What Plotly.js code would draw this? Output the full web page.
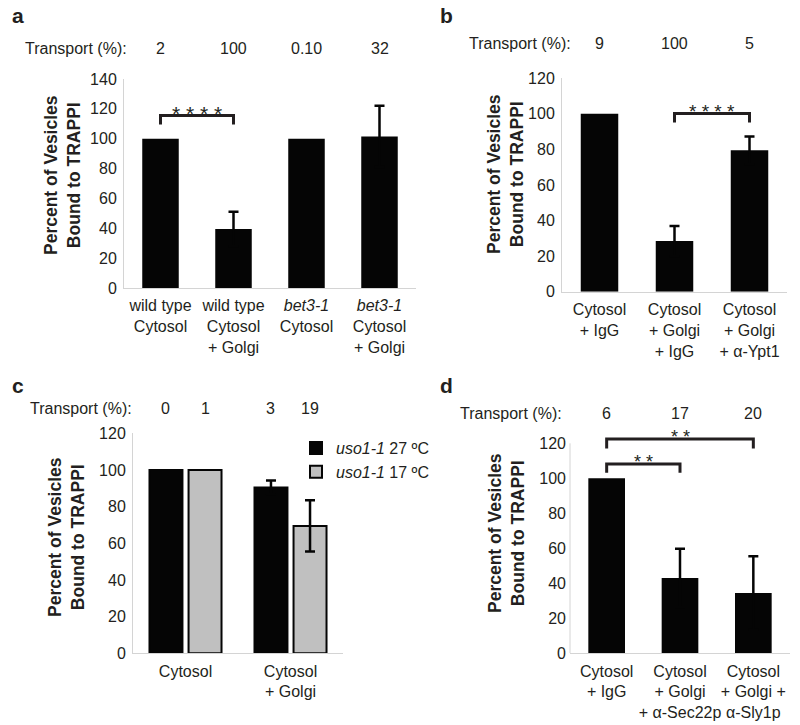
<!DOCTYPE html>
<html><head><meta charset="utf-8">
<script src="https://cdn.plot.ly/plotly-3.0.1.min.js"></script>
<style>html,body{margin:0;padding:0;background:#fff}#chart{width:800px;height:725px}</style>
</head><body><div id="chart"></div>
<script>
// ---------- Panel a ----------
const aCategories = ['wild type<br>Cytosol', 'wild type<br>Cytosol<br>+ Golgi', '<i>bet3-1</i><br>Cytosol', '<i>bet3-1</i><br>Cytosol<br>+ Golgi'];
const aValues = [100, 39.5, 100, 101.5];
const aErrors = [NaN, 11.5, NaN, 20.5];
const aTransport = ['2', '100', '0.10', '32'];
const aYTicks = [0, 20, 40, 60, 80, 100, 120, 140];
// bracket: [fromIndex, toIndex, top, legBottom, stars]
const aBrackets = [[0, 1, 115.5, 109.5, '* * * *']];

// ---------- Panel b ----------
const bCategories = ['Cytosol<br>+ IgG', 'Cytosol<br>+ Golgi<br>+ IgG', 'Cytosol<br>+ Golgi<br>+ α-Ypt1'];
const bValues = [100, 28.5, 79.5];
const bErrors = [NaN, 8.5, 7.8];
const bTransport = ['9', '100', '5'];
const bYTicks = [0, 20, 40, 60, 80, 100, 120];
const bBrackets = [[1, 2, 100.2, 95.2, '* * * *']];

// ---------- Panel c ----------
const cCategories = ['Cytosol', 'Cytosol<br>+ Golgi'];
const cSeriesNames = ['<i>uso1-1</i> 27 ºC', '<i>uso1-1</i> 17 ºC'];
const cSeries27 = [100, 90.5];
const cErrors27 = [NaN, 3.7];
const cSeries17 = [100, 69.5];
const cErrors17 = [NaN, 14];
const cTransport = ['0', '1', '3', '19'];
const cYTicks = [0, 20, 40, 60, 80, 100, 120];

// ---------- Panel d ----------
const dCategories = ['Cytosol<br>+ IgG', 'Cytosol<br>+ Golgi<br>+ α-Sec22p', 'Cytosol<br>+ Golgi +<br>α-Sly1p'];
const dValues = [100, 43, 34.5];
const dErrors = [NaN, 16.7, 21];
const dTransport = ['6', '17', '20'];
const dYTicks = [0, 20, 40, 60, 80, 100, 120];
const dBrackets = [[0, 2, 122.5, 117, '* *'], [0, 1, 108.2, 103.2, '* *']];

// ---------- styling ----------
const FONT = 'Liberation Sans, Arial, Helvetica, sans-serif';
const TXT = '#231f20';
const AXISLINE = '#d4d4d4';
const BLACK = '#050505';
const GRAY = '#c0c0c0';

function errBar(arr) {
  return {type: 'data', array: arr, visible: true, symmetric: true, color: BLACK, thickness: 2.5, width: 5};
}
function bars(cats, vals, errs, xa, ya) {
  return {type: 'bar', x: cats, y: vals, xaxis: xa, yaxis: ya, width: 0.5,
    marker: {color: BLACK, line: {width: 0}}, error_y: errBar(errs),
    showlegend: false, hoverinfo: 'skip'};
}
function bracketTraces(cats, brackets, xa, ya) {
  return brackets.map(b => ({
    type: 'scatter', mode: 'lines', xaxis: xa, yaxis: ya,
    x: [cats[b[0]], cats[b[0]], cats[b[1]], cats[b[1]]],
    y: [b[3], b[2], b[2], b[3]],
    line: {color: TXT, width: 3}, showlegend: false, hoverinfo: 'skip', cliponaxis: false
  }));
}

const C_WIDTH = 0.314;
const C_OFF = [-0.343, 0.029];

const traces = [
  bars(aCategories, aValues, aErrors, 'x', 'y'),
  ...bracketTraces(aCategories, aBrackets, 'x', 'y'),
  bars(bCategories, bValues, bErrors, 'x2', 'y2'),
  ...bracketTraces(bCategories, bBrackets, 'x2', 'y2'),
  {type: 'bar', name: cSeriesNames[0], x: cCategories, y: cSeries27, xaxis: 'x3', yaxis: 'y3',
    width: C_WIDTH, offset: C_OFF[0], marker: {color: BLACK, line: {color: BLACK, width: 2}},
    error_y: errBar(cErrors27), hoverinfo: 'skip'},
  {type: 'bar', name: cSeriesNames[1], x: cCategories, y: cSeries17, xaxis: 'x3', yaxis: 'y3',
    width: C_WIDTH, offset: C_OFF[1], marker: {color: GRAY, line: {color: BLACK, width: 2}},
    error_y: errBar(cErrors17), hoverinfo: 'skip'},
  bars(dCategories, dValues, dErrors, 'x4', 'y4'),
  ...bracketTraces(dCategories, dBrackets, 'x4', 'y4')
];

const tickFont = {family: FONT, size: 16, color: TXT};
function xAxis(domain, anchor) {
  return {domain: domain, anchor: anchor, type: 'category', showline: true, linecolor: AXISLINE, linewidth: 1,
    ticks: '', showgrid: false, zeroline: false, tickfont: tickFont, fixedrange: true, ticklabelstandoff: 3,
    tickangle: 0};
}
function yAxis(domain, anchor, range, ticks, showline) {
  return {domain: domain, anchor: anchor, range: range, tickvals: ticks, ticktext: ticks.map(String),
    showline: showline, linecolor: AXISLINE, linewidth: 1, ticks: '', showgrid: false, zeroline: false,
    tickfont: tickFont, fixedrange: true, ticklabelstandoff: 3};
}

const annotations = [];
const shapes = [];
function txt(o) {
  return Object.assign({showarrow: false, font: {family: FONT, size: 16, color: TXT}}, o);
}
// panel letters
[['a', 0.012, 0.979], ['b', 0.547, 0.979], ['c', 0.012, 0.468], ['d', 0.547, 0.468]].forEach(p => {
  annotations.push(txt({text: p[0], xref: 'paper', yref: 'paper', x: p[1], y: p[2], xanchor: 'left', yanchor: 'middle',
    font: {family: FONT, size: 21, color: TXT, weight: 700}}));
});
// y titles
const yTitle = 'Percent of Vesicles<br>Bound to TRAPPI';
[[62, 175], [505, 174], [66, 537], [506, 533]].forEach(p => {
  annotations.push(txt({text: yTitle, xref: 'paper', yref: 'paper', x: p[0] / 800, y: 1 - p[1] / 725,
    xanchor: 'center', yanchor: 'middle', textangle: -90,
    font: {family: FONT, size: 17.5, color: TXT, weight: 700}}));
});
// transport rows
function transportRow(labelRight, yPx, xref, positions, values) {
  annotations.push(txt({text: 'Transport (%):', xref: 'paper', yref: 'paper', x: labelRight / 800, y: 1 - yPx / 725,
    xanchor: 'right', yanchor: 'middle'}));
  values.forEach((v, i) => annotations.push(txt({text: v, xref: xref, yref: 'paper', x: positions[i], y: 1 - yPx / 725,
    xanchor: 'center', yanchor: 'middle'})));
}
transportRow(129, 48, 'x', aCategories.map((c, i) => i), aTransport);
transportRow(573, 43, 'x2', bCategories.map((c, i) => i), bTransport);
const cPositions = [];
cCategories.forEach((c, i) => { C_OFF.forEach(o => cPositions.push(i + o + C_WIDTH / 2)); });
transportRow(134, 408, 'x3', cPositions, cTransport);
transportRow(564, 413, 'x4', dCategories.map((c, i) => i), dTransport);

// stars
function stars(brackets, xref, yref, size) {
  brackets.forEach(b => annotations.push(txt({text: b[4], xref: xref, yref: yref, x: (b[0] + b[1]) / 2, y: b[2],
    xanchor: 'center', yanchor: 'middle', yshift: 2, font: {family: FONT, size: size, color: TXT}})));
}
stars(aBrackets, 'x', 'y', 21);
stars(bBrackets, 'x2', 'y2', 19);
stars(dBrackets, 'x4', 'y4', 18);

// y axis line for panel d (range extends above top tick for brackets)
shapes.push({type: 'line', xref: 'x4 domain', yref: 'y4', x0: 0, x1: 0, y0: 0, y1: dYTicks[dYTicks.length - 1],
  line: {color: AXISLINE, width: 1}, layer: 'below'});

const layout = {
  width: 800, height: 725, margin: {l: 0, r: 0, t: 0, b: 0},
  paper_bgcolor: '#fff', plot_bgcolor: 'rgba(0,0,0,0)',
  font: {family: FONT, color: TXT},
  barmode: 'group', bargap: 0.5,
  showlegend: true,
  legend: {x: 296 / 800, y: 1 - 431 / 725, xanchor: 'left', yanchor: 'top', bgcolor: 'rgba(0,0,0,0)',
    font: {family: FONT, size: 16, color: TXT}, tracegroupgap: 0, itemwidth: 30},
  xaxis: xAxis([124 / 800, 416 / 800], 'y'),
  yaxis: yAxis([1 - 288 / 725, 1 - 79 / 725], 'x', [0, 140], aYTicks, true),
  xaxis2: xAxis([562 / 800, 787 / 800], 'y2'),
  yaxis2: yAxis([1 - 291.7 / 725, 1 - 78.3 / 725], 'x2', [0, 120], bYTicks, true),
  xaxis3: xAxis([133 / 800, 343 / 800], 'y3'),
  yaxis3: yAxis([1 - 653.3 / 725, 1 - 433.3 / 725], 'x3', [0, 120], cYTicks, true),
  xaxis4: xAxis([570 / 800, 790 / 800], 'y4'),
  yaxis4: yAxis([1 - 653.3 / 725, 1 - 425.8 / 725], 'x4', [0, 130], dYTicks, false),
  annotations: annotations,
  shapes: shapes
};

Plotly.newPlot('chart', traces, layout, {staticPlot: true, displayModeBar: false});
</script>
</body></html>
